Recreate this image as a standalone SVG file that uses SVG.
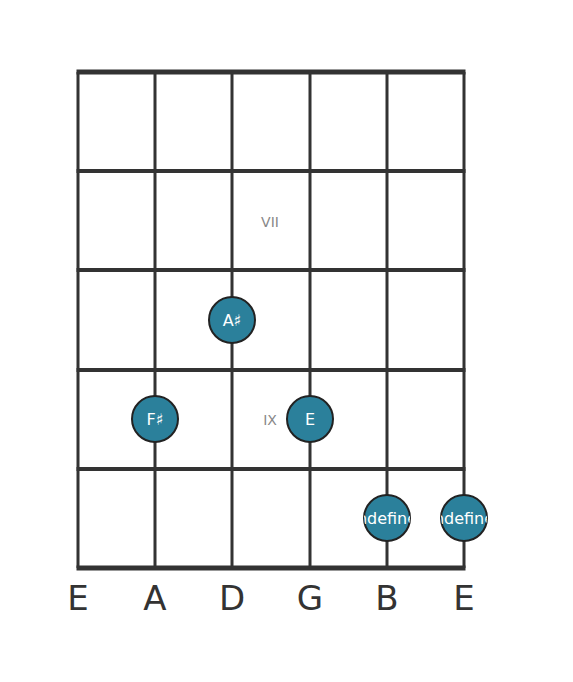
<svg xmlns="http://www.w3.org/2000/svg" width="573" height="682" viewBox="0 0 573 682">
<style>
.str{stroke:#333;stroke-width:3}
.fret{stroke:#333;stroke-width:4}
.nut{stroke:#333;stroke-width:5}
.dot{fill:#2b809b;stroke:#222;stroke-width:2}
.nl{font-family:"DejaVu Sans",sans-serif;font-size:16px;fill:#fff;text-anchor:middle;dominant-baseline:central}
.fl{font-family:"DejaVu Sans",sans-serif;font-size:14px;fill:#888;text-anchor:middle;dominant-baseline:central}
.sl{font-family:"DejaVu Sans",sans-serif;font-size:34px;fill:#333;text-anchor:middle}
</style>
<defs>
<clipPath id="c1"><circle cx="387" cy="518" r="23"/></clipPath>
<clipPath id="c2"><circle cx="464" cy="518" r="23"/></clipPath>
</defs>
<rect width="573" height="682" fill="#fff"/>
<g id="grid">
<line class="str" x1="78" y1="72" x2="78" y2="568"/>
<line class="str" x1="155" y1="72" x2="155" y2="568"/>
<line class="str" x1="232" y1="72" x2="232" y2="568"/>
<line class="str" x1="310" y1="72" x2="310" y2="568"/>
<line class="str" x1="387" y1="72" x2="387" y2="568"/>
<line class="str" x1="464" y1="72" x2="464" y2="568"/>
<line class="nut" x1="76.500" y1="72" x2="465.500" y2="72"/>
<line class="fret" x1="76.500" y1="171" x2="465.500" y2="171"/>
<line class="fret" x1="76.500" y1="270" x2="465.500" y2="270"/>
<line class="fret" x1="76.500" y1="370" x2="465.500" y2="370"/>
<line class="fret" x1="76.500" y1="469" x2="465.500" y2="469"/>
<line class="nut" x1="76.500" y1="568" x2="465.500" y2="568"/>
</g>
<g id="fret-labels">
<text class="fl" x="270" y="222">VII</text>
<text class="fl" x="270" y="420">IX</text>
</g>
<g id="note-asharp"><circle class="dot" cx="232" cy="320" r="23"/><text class="nl" x="232" y="320">A♯</text></g>
<g id="note-fsharp"><circle class="dot" cx="155" cy="419" r="23"/><text class="nl" x="155" y="419">F♯</text></g>
<g id="note-e"><circle class="dot" cx="310" cy="419" r="23"/><text class="nl" x="310" y="419">E</text></g>
<g id="note-b"><circle class="dot" cx="387" cy="518" r="23"/><text class="nl" x="387" y="518" clip-path="url(#c1)">undefined</text></g>
<g id="note-e2"><circle class="dot" cx="464" cy="518" r="23"/><text class="nl" x="464" y="518" clip-path="url(#c2)">undefined</text></g>
<g id="string-labels">
<text class="sl" x="78" y="610">E</text>
<text class="sl" x="155" y="610">A</text>
<text class="sl" x="232" y="610">D</text>
<text class="sl" x="310" y="610">G</text>
<text class="sl" x="387" y="610">B</text>
<text class="sl" x="464" y="610">E</text>
</g>
</svg>
